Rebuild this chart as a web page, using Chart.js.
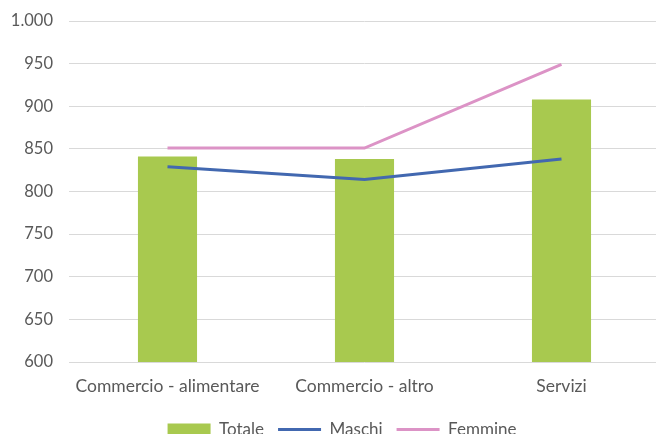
<!DOCTYPE html>
<html>
<head>
<meta charset="utf-8">
<script src="https://cdn.jsdelivr.net/npm/chart.js@4.4.1/dist/chart.umd.min.js"></script>
<style>
    html, body { margin: 0; padding: 0; background: #fff; overflow: hidden; }
    #wrap { width: 656px; height: 434px; overflow: hidden; position: relative; }
    #wrap canvas { position: absolute; left: 0; top: 0; }
</style>
</head>
<body>
<div id="wrap"><canvas id="chart" width="664" height="454" style="width:664px;height:454px"></canvas></div>
<script>
'use strict';

// dati
const categories = ['Commercio - alimentare', 'Commercio - altro', 'Servizi'];
const totale = [841, 838, 908];
const maschi = [829, 814, 838];
const femmine = [851, 851, 949];
const yMin = 600;
const yMax = 1000;
const yStep = 50;

const textColor = '#595959';
const fontFamily = 'Lato, "Liberation Sans", sans-serif';

Chart.defaults.font.family = fontFamily;
Chart.defaults.font.size = 15;
Chart.defaults.color = textColor;

function formatTick(value) {
    // separatore delle migliaia all'italiana
    return value >= 1000 ? Math.floor(value / 1000) + '.' + String(value % 1000).padStart(3, '0') : String(value);
}

// sposta la legenda un po' a destra come nell'originale
const legendShift = {
    id: 'legendShift',
    afterLayout(chart) {
        if (chart.legend) {
            chart.legend.left += 12;
            chart.legend.right += 12;
        }
    }
};

const ctx = document.getElementById('chart').getContext('2d');
new Chart(ctx, {
    type: 'bar',
    data: {
        labels: categories,
        datasets: [
            {
                type: 'bar',
                label: 'Totale',
                data: totale,
                backgroundColor: '#a8c94f',
                borderWidth: 0,
                barPercentage: 0.3,
                categoryPercentage: 1,
                order: 2
            },
            {
                type: 'line',
                label: 'Maschi',
                data: maschi,
                borderColor: '#4268b0',
                backgroundColor: '#4268b0',
                borderWidth: 3,
                pointRadius: 0,
                tension: 0,
                order: 1
            },
            {
                type: 'line',
                label: 'Femmine',
                data: femmine,
                borderColor: '#dc93c6',
                backgroundColor: '#dc93c6',
                borderWidth: 3,
                pointRadius: 0,
                tension: 0,
                order: 0
            }
        ]
    },
    plugins: [legendShift],
    options: {
        responsive: false,
        animation: false,
        layout: {
            padding: { top: 21, right: 4, bottom: 6, left: 0 }
        },
        scales: {
            x: {
                afterFit: (axis) => { axis.height = 45; },
                grid: { display: false },
                border: { display: false },
                ticks: { padding: 6, color: textColor, font: { size: 17.5 } }
            },
            y: {
                min: yMin,
                max: yMax,
                afterFit: (axis) => {
                    axis.width = 69;
                    axis.paddingTop = 0;
                    axis.paddingBottom = 0;
                },
                grid: { color: '#d9d9d9', lineWidth: 1, drawTicks: false },
                border: { display: false },
                ticks: {
                    stepSize: yStep,
                    padding: 16,
                    color: textColor,
                    font: { size: 16.5 },
                    callback: (value) => formatTick(value)
                }
            }
        },
        plugins: {
            tooltip: { enabled: false },
            legend: {
                position: 'bottom',
                labels: {
                    usePointStyle: true,
                    pointStyleWidth: 43,
                    boxHeight: 12,
                    padding: 14,
                    color: textColor,
                    font: { size: 17 },
                    sort: (a, b) => a.datasetIndex - b.datasetIndex,
                    generateLabels: (chart) => {
                        const items = Chart.defaults.plugins.legend.labels.generateLabels(chart);
                        items.forEach(item => {
                            const ds = chart.data.datasets[item.datasetIndex];
                            if (ds.type === 'line') {
                                item.pointStyle = 'line';
                                item.lineWidth = 3;
                                item.strokeStyle = ds.borderColor;
                            } else {
                                item.pointStyle = 'rect';
                                item.lineWidth = 0;
                                item.fillStyle = ds.backgroundColor;
                            }
                        });
                        return items;
                    }
                }
            }
        }
    }
});
</script>
</body>
</html>
